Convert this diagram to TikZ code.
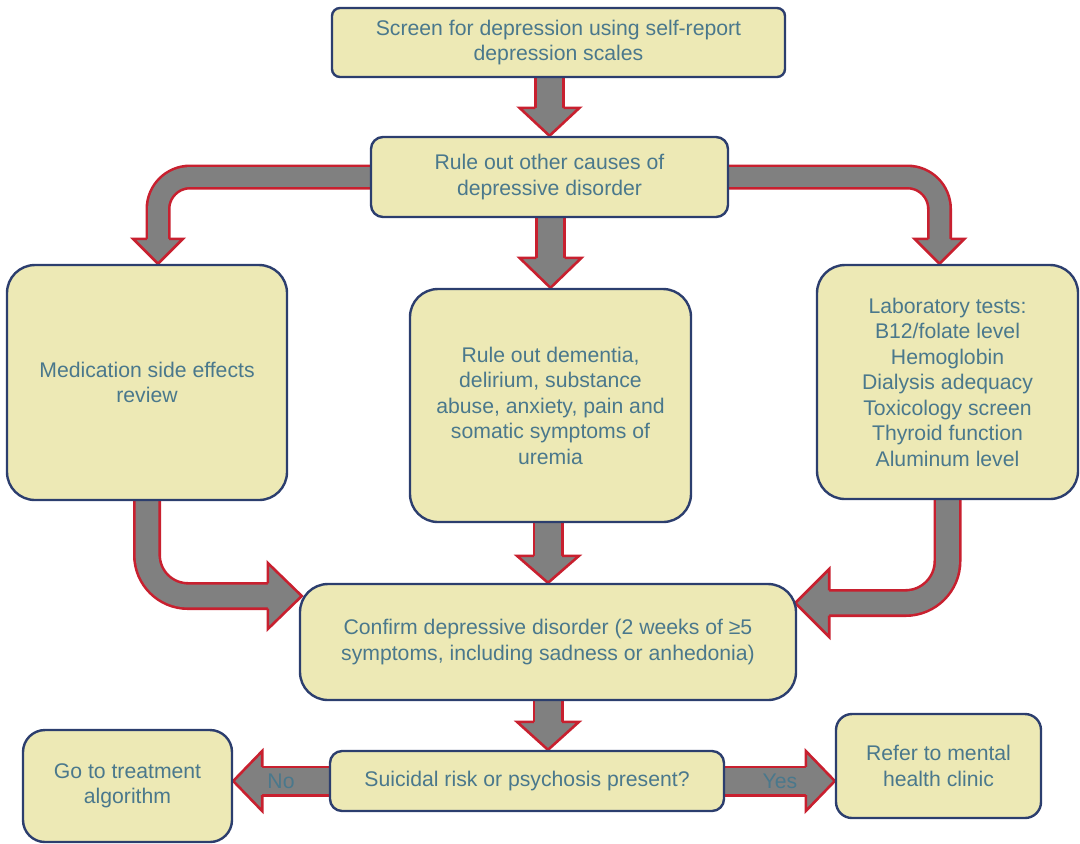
\documentclass[tikz,border=0pt]{standalone}
\usepackage{fontspec}
\setmainfont{Liberation Sans}
\usepackage{tikz}
\usetikzlibrary{calc, backgrounds}
\definecolor{boxfill}{RGB}{237,233,181}
\definecolor{boxline}{RGB}{44,62,110}
\definecolor{boxtext}{RGB}{74,120,140}
\definecolor{arrowgray}{RGB}{128,128,128}
\definecolor{arrowred}{RGB}{200,32,47}
\tikzstyle{box} = [rectangle, draw=boxline, fill=boxfill, line width=1.2pt, text=boxtext, align=center, inner sep=0pt, font=\fontsize{10.6}{12.75}\selectfont]
\tikzstyle{headline} = [draw=arrowred, fill=arrowgray, line width=1.3pt, line join=miter]
\tikzstyle{lbl} = [text=boxtext, font=\fontsize{10.6}{12.75}\selectfont]
\tikzset{shaft/.style={draw=arrowred, line width=1.3pt, double=arrowgray, double distance=#1}}
% tip, point behind, length, half head, half shaft
\newcommand{\fathead}[5]{%
  \coordinate (hb) at ($(#1)!#3!(#2)$);
  \filldraw[headline] ($(hb)!#5!90:(#1)$) -- ($(hb)!#4!90:(#1)$) -- (#1)
    -- ($(hb)!#4!-90:(#1)$) -- ($(hb)!#5!-90:(#1)$);
}

\begin{document}
\begin{tikzpicture}[x=0.5pt, y=-0.5pt]
\useasboundingbox (0,0) rectangle (1080,843);

\node[box, rounded corners=4pt, minimum width=226.5pt, minimum height=34.5pt] (screen) at (558.5,42.5)
  {Screen for depression using self-report\\depression scales};
\node[box, rounded corners=6pt, minimum width=178.5pt, minimum height=40pt] (ruleout) at (549.5,177)
  {Rule out other causes of\\depressive disorder};
\node[box, rounded corners=14pt, minimum width=140pt, minimum height=117.5pt] (medrev) at (147,382.5)
  {Medication side effects\\review};
\node[box, rounded corners=14pt, minimum width=140.5pt, minimum height=116.5pt] (ruledem) at (550.5,405.5)
  {Rule out dementia,\\delirium, substance\\abuse, anxiety, pain and\\somatic symptoms of\\uremia};
\node[box, rounded corners=14pt, minimum width=130.5pt, minimum height=117pt] (labtests) at (947.5,382)
  {Laboratory tests:\\B12/folate level\\Hemoglobin\\Dialysis adequacy\\Toxicology screen\\Thyroid function\\Aluminum level};
\node[box, rounded corners=14pt, minimum width=248pt, minimum height=58pt] (confirm) at (548,642)
  {Confirm depressive disorder (2 weeks of ≥5\\symptoms, including sadness or anhedonia)};
\node[box, rounded corners=6pt, minimum width=197pt, minimum height=30pt] (suicide) at (527,781)
  {Suicidal risk or psychosis present?};
\node[box, rounded corners=11pt, minimum width=104.5pt, minimum height=56pt] (treat) at (127.5,786)
  {Go to treatment\\algorithm};
\node[box, rounded corners=8pt, minimum width=102.5pt, minimum height=52pt] (refer) at (938.5,766)
  {Refer to mental\\health clinic};

\begin{scope}[on background layer]
% screen -> rule out
\coordinate (a1) at (ruleout.north |- screen.center);
\draw[shaft=12.9pt, shorten >=14pt] (a1) -- (ruleout.north);
\fathead{ruleout.north}{a1}{14pt}{15pt}{7.1pt}

% rule out -> medication review
\coordinate (ltip) at ($(medrev.north)+(11,0)$);
\coordinate (lbend) at (ltip |- ruleout.center);
\draw[shaft=9.9pt, rounded corners=16pt, shorten >=12.5pt] (ruleout.center) -- (lbend) -- (ltip);
\fathead{ltip}{lbend}{12.5pt}{12.5pt}{5.6pt}

% rule out -> lab tests
\coordinate (rtip) at ($(labtests.north)+(-8,0)$);
\coordinate (rbend) at (rtip |- ruleout.center);
\draw[shaft=9.9pt, rounded corners=16pt, shorten >=12.5pt] (ruleout.center) -- (rbend) -- (rtip);
\fathead{rtip}{rbend}{12.5pt}{12.5pt}{5.6pt}

% rule out -> dementia
\coordinate (a2) at (ruledem.north |- ruleout.center);
\draw[shaft=12.9pt, shorten >=15pt] (a2) -- (ruledem.north);
\fathead{ruledem.north}{a2}{15pt}{15.5pt}{7.1pt}

% medication review -> confirm
\coordinate (bltip) at ($(confirm.west)+(3,-46)$);
\coordinate (blbend) at (medrev.center |- bltip);
\draw[shaft=11.4pt, rounded corners=20.5pt, shorten >=17pt] (medrev.center) -- (blbend) -- (bltip);
\fathead{bltip}{blbend}{17pt}{16.5pt}{6.35pt}

% lab tests -> confirm
\coordinate (brtip) at ($(confirm.east)+(-2,-39)$);
\coordinate (brbend) at (labtests.center |- brtip);
\draw[shaft=11.4pt, rounded corners=21pt, shorten >=17pt] (labtests.center) -- (brbend) -- (brtip);
\fathead{brtip}{brbend}{17pt}{17pt}{6.35pt}

% dementia -> confirm
\coordinate (a3) at (confirm.north |- ruledem.center);
\draw[shaft=12.9pt, shorten >=13.5pt] (a3) -- (confirm.north);
\fathead{confirm.north}{a3}{13.5pt}{15.5pt}{7.1pt}

% confirm -> suicidal risk
\coordinate (a4) at (confirm.south |- suicide.north);
\draw[shaft=12.9pt, shorten >=14pt] (confirm.center) -- (a4);
\fathead{a4}{confirm.center}{14pt}{15.5pt}{7.1pt}

% no / yes
\coordinate (ntip) at (treat.east |- suicide.center);
\draw[shaft=12.9pt, shorten >=14.5pt] (suicide.center) -- (suicide.west) -- node[lbl] {No} (ntip);
\fathead{ntip}{suicide.center}{14.5pt}{15pt}{7.1pt}

\coordinate (ytip) at (refer.west |- suicide.center);
\draw[shaft=12.9pt, shorten >=14.5pt] (suicide.center) -- (suicide.east) -- node[lbl] {Yes} (ytip);
\fathead{ytip}{suicide.center}{14.5pt}{15pt}{7.1pt}
\end{scope}
\end{tikzpicture}
\end{document}
